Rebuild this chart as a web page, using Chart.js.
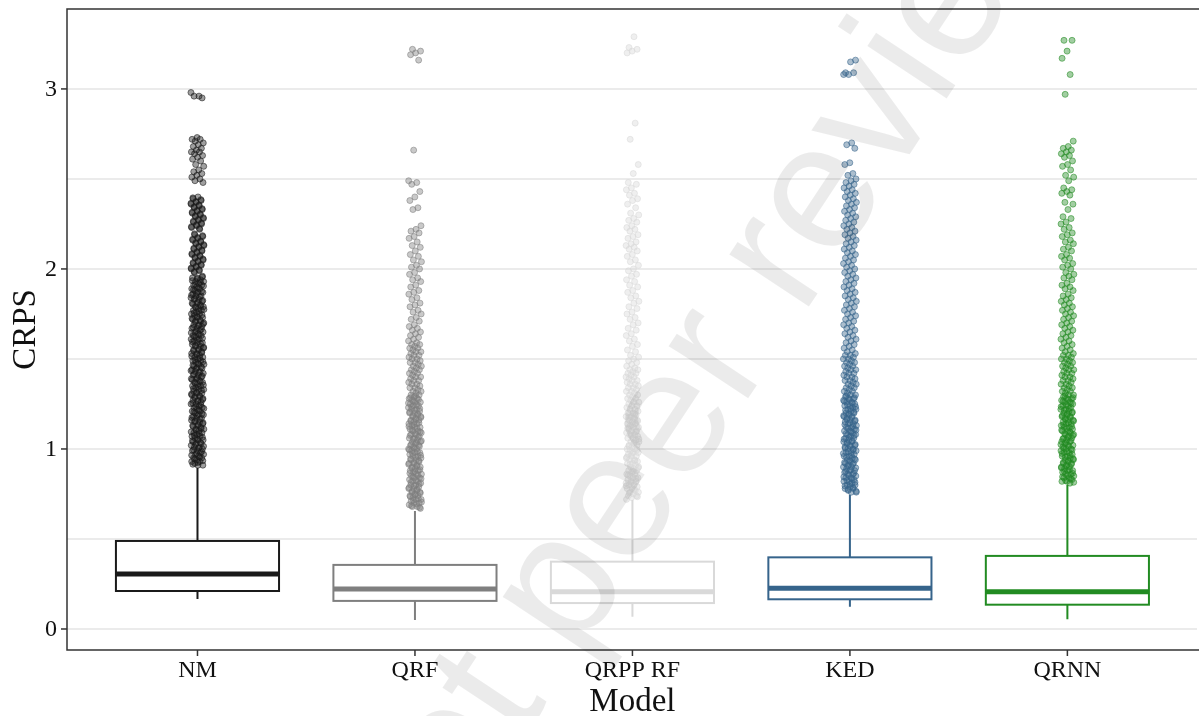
<!DOCTYPE html>
<html>
<head>
<meta charset="utf-8">
<script src="https://cdn.jsdelivr.net/npm/chart.js@4.4.1/dist/chart.umd.min.js"></script>
<style>
  html, body { margin: 0; padding: 0; background: #fff; }
  #wrap { width: 1201px; height: 716px; }
</style>
</head>
<body>
<div id="wrap"><canvas id="chart" width="1201" height="716"></canvas></div>
<script>
/* ============================================
   CRPS by model — boxplot + jittered outliers
   ============================================ */

const categories = ['NM', 'QRF', 'QRPP RF', 'KED', 'QRNN'];
const colors = ['#1A1A1A', '#7F7F7F', '#D9D9D9', '#36648B', '#228B22'];

// box stats
const whiskerLow  = [0.167, 0.050, 0.068, 0.124, 0.054];
const q1          = [0.211, 0.156, 0.144, 0.165, 0.135];
const medians     = [0.306, 0.222, 0.207, 0.226, 0.207];
const q3          = [0.489, 0.356, 0.374, 0.398, 0.406];
const whiskerHigh = [0.894, 0.656, 0.717, 0.744, 0.800];

const yTicks = [0, 0.5, 1, 1.5, 2, 2.5, 3];
const yLabels = [0, 1, 2, 3];

// outliers
const outNM = [2.98,2.96,2.96,2.95,
  2.73,2.72,2.72,2.71,2.70,2.69,2.68,2.67,2.66,2.65,2.65,2.64,2.63,2.62,2.61,2.60,2.58,2.57,2.55,2.54,2.53,2.52,2.51,2.50,2.49,2.48,
  2.40,2.39,2.38,2.37,2.36,2.35,2.34,2.33,2.32,2.31,2.30,2.29,2.28,2.27,2.26,2.25,2.24,2.23,2.22,
  2.19,2.18,2.17,2.16,2.15,2.14,2.13,2.12,2.11,2.10,2.09,2.08,2.07,2.06,2.05,2.04,2.03,2.02,2.01,2.00,1.99,1.98,
  1.96,1.95,1.95,1.94,1.93,1.93,1.92,1.91,1.91,1.90,1.89,1.89,1.88,1.87,1.87,1.86,1.85,1.85,1.84,1.83,1.83,1.82,1.81,1.81,1.80,1.79,1.79,1.78,1.77,1.77,1.76,1.75,1.75,1.74,1.73,1.73,1.72,1.71,1.71,1.70,1.69,1.69,1.68,1.67,1.67,1.66,1.65,1.65,1.64,1.63,1.63,1.62,1.61,1.61,1.60,1.59,1.59,1.58,1.57,1.57,1.56,1.55,1.55,1.54,1.53,1.53,1.52,1.51,1.51,1.50,1.49,1.49,1.48,1.47,1.47,1.46,1.45,1.45,1.44,1.43,1.43,1.42,1.41,1.41,1.40,1.39,1.39,1.38,1.37,1.37,1.36,1.35,1.35,1.34,1.33,1.33,1.32,1.31,1.31,1.30,1.29,1.29,1.28,1.27,1.27,1.26,1.25,1.25,1.24,1.23,1.23,1.22,1.21,1.21,1.20,1.19,1.19,1.18,1.17,1.17,1.16,1.15,1.15,1.14,1.13,1.13,1.12,1.11,1.11,1.10,1.09,1.09,1.08,1.07,1.07,1.06,1.05,1.05,1.04,1.03,1.03,1.02,1.01,1.01,1.00,0.99,0.99,0.98,0.97,0.97,0.96,0.95,0.95,0.94,0.93,0.93,0.92,0.91,0.91,
  2.395,2.385,2.375,2.365,2.355,2.345,2.335,2.325,2.315,2.305,2.295,2.285,2.275,2.265,2.255,2.245,2.235,2.225,
  2.195,2.185,2.175,2.165,2.155,2.145,2.135,2.125,2.115,2.105,2.095,2.085,2.075,2.065,2.055,2.045,2.035,2.025,2.015,2.005,1.995,1.985,
  1.955,1.945,1.935,1.925,1.915,1.905,1.895,1.885,1.875,1.865,1.855,1.845,1.835,1.825,1.815,1.805,1.795,1.785,1.775,1.765,1.755,1.745,1.735,1.725,1.715,1.705,1.695,1.685,1.675,1.665,1.655,1.645,1.635,1.625,1.615,1.605,1.595,1.585,1.575,1.565,1.555,1.545,1.535,1.525,1.515,1.505,1.495,1.485,1.475,1.465,1.455,1.445,1.435,1.425,1.415,1.405,1.395,1.385,1.375,1.365,1.355,1.345,1.335,1.325,1.315,1.305,1.295,1.285,1.275,1.265,1.255,1.245,1.235,1.225,1.215,1.205,1.195,1.185,1.175,1.165,1.155,1.145,1.135,1.125,1.115,1.105,1.095,1.085,1.075,1.065,1.055,1.045,1.035,1.025,1.015,1.005,0.995,0.985,0.975,0.965,0.955,0.945,0.935,0.925,0.915];

const outQRF = [3.22,3.21,3.20,3.19,3.16,2.66,2.49,2.48,2.47,2.43,2.40,2.38,2.34,2.33,
  2.24,2.22,2.21,2.20,2.18,2.17,2.15,2.13,2.12,2.10,2.08,2.07,2.05,2.04,2.02,2.01,2.00,
  1.98,1.97,1.95,1.94,1.93,1.91,1.90,1.88,1.87,1.86,1.84,1.83,1.81,1.80,1.79,1.77,1.76,1.75,1.73,1.72,1.71,1.69,1.68,1.67,1.66,1.65,1.64,1.63,1.62,1.61,1.60,
  1.59,1.58,1.58,1.57,1.56,1.56,1.55,1.54,1.54,1.53,1.52,1.52,1.51,1.50,1.50,1.49,1.48,1.48,1.47,1.46,1.46,1.45,1.44,1.44,1.43,1.42,1.42,1.41,1.40,1.40,1.39,1.38,1.38,1.37,1.36,1.36,1.35,1.34,1.34,1.33,1.32,1.32,1.31,1.30,1.30,1.29,1.28,1.28,1.27,1.26,1.26,1.25,1.24,1.24,1.23,1.22,1.22,1.21,1.20,1.20,1.19,1.18,1.18,1.17,1.16,1.16,1.15,1.14,1.14,1.13,1.12,1.12,1.11,1.10,1.10,1.09,1.08,1.08,1.07,1.06,1.06,1.05,1.04,1.04,1.03,1.02,1.02,1.01,1.00,1.00,0.99,0.98,0.98,0.97,0.96,0.96,0.95,0.94,0.94,0.93,0.92,0.92,0.91,0.90,0.90,0.89,0.88,0.88,0.87,0.86,0.86,0.85,0.84,0.84,0.83,0.82,0.82,0.81,0.80,0.80,0.79,0.78,0.78,0.77,0.76,0.76,0.75,0.74,0.74,0.73,0.72,0.72,0.71,0.70,0.70,0.69,0.68,0.68,0.67,
  1.295,1.285,1.275,1.265,1.255,1.245,1.235,1.225,1.215,1.205,1.195,1.185,1.175,1.165,1.155,1.145,1.135,1.125,1.115,1.105,1.095,1.085,1.075,1.065,1.055,1.045,1.035,1.025,1.015,1.005,0.995,0.985,0.975,0.965,0.955,0.945,0.935,0.925,0.915,0.905,0.895,0.885,0.875,0.865,0.855,0.845,0.835,0.825,0.815,0.805,0.795,0.785,0.775,0.765,0.755,0.745,0.735,0.725,0.715,0.705,0.695,0.685,0.675];

const outQRPP = [3.29,3.23,3.22,3.21,3.20,2.81,2.72,2.58,2.53,
  2.48,2.47,2.45,2.44,2.42,2.41,2.39,2.38,2.36,2.34,2.31,2.30,2.28,2.27,2.26,2.24,2.23,2.22,2.21,2.19,2.18,2.17,2.15,2.14,2.13,2.12,2.11,2.10,
  2.08,2.07,2.05,2.04,2.02,2.00,1.99,1.97,1.96,1.94,1.93,1.91,1.90,1.88,1.87,1.85,1.84,1.82,1.81,1.79,1.78,1.76,1.75,1.73,1.72,1.70,1.69,1.67,1.66,1.64,1.63,1.61,1.60,1.58,1.57,1.55,1.54,1.52,1.51,1.50,1.49,1.48,1.47,1.46,
  1.45,1.44,1.44,1.43,1.42,1.42,1.41,1.40,1.40,1.39,1.38,1.38,1.37,1.36,1.36,1.35,1.34,1.34,1.33,1.32,1.32,1.31,1.30,1.30,1.29,1.28,1.28,1.27,1.26,1.26,1.25,1.24,1.24,1.23,1.22,1.22,1.21,1.20,1.20,1.19,1.18,1.18,1.17,1.16,1.16,1.15,1.14,1.14,1.13,1.12,1.12,1.11,1.10,1.10,1.09,1.08,1.08,1.07,1.06,1.06,1.05,1.04,1.04,1.03,1.02,1.02,1.01,1.00,1.00,0.99,0.98,0.98,0.97,0.96,0.96,0.95,0.94,0.94,0.93,0.92,0.92,0.91,0.90,0.90,0.89,0.88,0.88,0.87,0.86,0.86,0.85,0.84,0.84,0.83,0.82,0.82,0.81,0.80,0.80,0.79,0.78,0.78,0.77,0.76,0.76,0.75,0.74,0.74,0.73,0.72,
  1.195,1.175,1.155,1.135,1.115,1.095,1.075,1.055,1.035,1.015,0.995,0.975,0.955,0.935,0.915,0.895,0.875,0.855,0.835,0.815,0.795,0.775,0.755,0.735];

const outKED = [3.16,3.15,3.09,3.09,3.08,3.08,2.70,2.69,2.67,2.59,2.58,2.53,2.52,2.50,2.49,2.48,2.47,2.46,2.45,
  2.44,2.43,2.42,2.41,2.40,2.39,2.38,2.37,2.36,2.35,2.34,2.33,2.32,2.31,2.30,2.29,2.28,2.27,2.26,2.25,2.24,2.23,2.22,2.21,2.20,2.19,2.18,2.17,2.16,2.15,2.14,2.13,2.12,2.11,2.10,2.09,2.08,2.07,2.06,2.05,2.04,2.03,2.02,2.01,2.00,
  1.99,1.98,1.97,1.96,1.95,1.94,1.93,1.92,1.91,1.90,1.89,1.88,1.87,1.86,1.85,1.84,1.83,1.82,1.81,1.80,1.79,1.78,1.77,1.76,1.75,1.74,1.73,1.72,1.71,1.70,1.69,1.68,1.67,1.66,1.65,1.64,1.63,1.62,1.61,1.60,1.59,1.58,1.57,1.56,1.55,1.54,
  1.53,1.52,1.52,1.51,1.50,1.50,1.49,1.48,1.48,1.47,1.46,1.46,1.45,1.44,1.44,1.43,1.42,1.42,1.41,1.40,1.40,1.39,1.38,1.38,1.37,1.36,1.36,1.35,1.34,1.34,1.33,1.32,1.32,1.31,1.30,1.30,1.29,1.28,1.28,1.27,1.26,1.26,1.25,1.24,1.24,1.23,1.22,1.22,1.21,1.20,1.20,1.19,1.18,1.18,1.17,1.16,1.16,1.15,1.14,1.14,1.13,1.12,1.12,1.11,1.10,1.10,1.09,1.08,1.08,1.07,1.06,1.06,1.05,1.04,1.04,1.03,1.02,1.02,1.01,1.00,1.00,0.99,0.98,0.98,0.97,0.96,0.96,0.95,0.94,0.94,0.93,0.92,0.92,0.91,0.90,0.90,0.89,0.88,0.88,0.87,0.86,0.86,0.85,0.84,0.84,0.83,0.82,0.82,0.81,0.80,0.80,0.79,0.78,0.78,0.77,0.76,0.76,
  1.295,1.285,1.275,1.265,1.255,1.245,1.235,1.225,1.215,1.205,1.195,1.185,1.175,1.165,1.155,1.145,1.135,1.125,1.115,1.105,1.095,1.085,1.075,1.065,1.055,1.045,1.035,1.025,1.015,1.005,0.995,0.985,0.975,0.965,0.955,0.945,0.935,0.925,0.915,0.905,0.895,0.885,0.875,0.865,0.855,0.845,0.835,0.825,0.815,0.805,0.795,0.785,0.775,0.765];

const outQRNN = [3.27,3.27,3.21,3.17,3.08,2.97,2.71,2.68,2.67,2.66,2.65,2.64,2.63,2.62,2.60,2.58,2.57,2.55,2.52,2.51,2.49,
  2.45,2.44,2.43,2.42,2.41,2.37,2.36,2.33,2.29,2.28,2.26,2.25,
  2.23,2.22,2.20,2.19,2.18,2.16,2.15,2.14,2.12,2.11,2.10,2.08,2.07,2.06,2.05,2.03,2.02,2.01,2.00,1.98,1.97,1.96,1.95,1.94,1.92,1.91,1.90,1.89,1.88,1.86,1.85,1.84,1.83,1.82,1.81,1.80,1.79,1.78,1.77,1.76,1.75,1.74,1.73,1.72,1.71,1.70,1.69,1.68,1.67,1.66,1.65,1.64,1.63,1.62,1.61,1.60,1.59,1.58,1.57,1.56,1.55,1.54,
  1.53,1.52,1.52,1.51,1.50,1.50,1.49,1.48,1.48,1.47,1.46,1.46,1.45,1.44,1.44,1.43,1.42,1.42,1.41,1.40,1.40,1.39,1.38,1.38,1.37,1.36,1.36,1.35,1.34,1.34,1.33,1.32,1.32,1.31,1.30,1.30,1.29,1.28,1.28,1.27,1.26,1.26,1.25,1.24,1.24,1.23,1.22,1.22,1.21,1.20,1.20,1.19,1.18,1.18,1.17,1.16,1.16,1.15,1.14,1.14,1.13,1.12,1.12,1.11,1.10,1.10,1.09,1.08,1.08,1.07,1.06,1.06,1.05,1.04,1.04,1.03,1.02,1.02,1.01,1.00,1.00,0.99,0.98,0.98,0.97,0.96,0.96,0.95,0.94,0.94,0.93,0.92,0.92,0.91,0.90,0.90,0.89,0.88,0.88,0.87,0.86,0.86,0.85,0.84,0.84,0.83,0.82,0.82,0.81,
  1.295,1.285,1.275,1.265,1.255,1.245,1.235,1.225,1.215,1.205,1.195,1.185,1.175,1.165,1.155,1.145,1.135,1.125,1.115,1.105,1.095,1.085,1.075,1.065,1.055,1.045,1.035,1.025,1.015,1.005,0.995,0.985,0.975,0.965,0.955,0.945,0.935,0.925,0.915,0.905,0.895,0.885,0.875,0.865,0.855,0.845,0.835,0.825,0.815];

const outliers = [outNM, outQRF, outQRPP, outKED, outQRNN];

const SERIF = '"Liberation Serif", "DejaVu Serif", serif';

function rgba(hex, a) {
    const n = parseInt(hex.slice(1), 16);
    return `rgba(${n >> 16},${(n >> 8) & 255},${n & 255},${a})`;
}

// jitter is only a drawing offset (golden-ratio spread, no randomness)
const datasets = categories.map((c, i) => ({
    label: c,
    data: outliers[i].map((v, k) => ({ x: i + 1 + (((k * 0.618034 + i * 0.31) % 1) - 0.5) * 0.06, y: v })),
    backgroundColor: rgba(colors[i], 0.42),
    borderColor: rgba(colors[i], 0.55),
    borderWidth: 1,
    pointRadius: 3,
    pointHoverRadius: 3
}));

const boxPlugin = {
    id: 'boxes',
    beforeDatasetsDraw(chart) {
        const { ctx, chartArea: a, scales: { x, y } } = chart;
        ctx.save();
        // grid (major + minor, same grey)
        ctx.strokeStyle = '#EBEBEB';
        ctx.lineWidth = 2;
        yTicks.forEach(v => {
            const py = Math.round(y.getPixelForValue(v));
            ctx.beginPath();
            ctx.moveTo(a.left, py);
            ctx.lineTo(a.right, py);
            ctx.stroke();
        });
        categories.forEach((c, i) => {
            const cx = x.getPixelForValue(i + 1);
            const half = (x.getPixelForValue(i + 1.375) - x.getPixelForValue(i + 0.625)) / 2;
            ctx.strokeStyle = colors[i];
            ctx.lineWidth = 2;
            ctx.beginPath();
            ctx.moveTo(cx, y.getPixelForValue(whiskerHigh[i]));
            ctx.lineTo(cx, y.getPixelForValue(q3[i]));
            ctx.moveTo(cx, y.getPixelForValue(q1[i]));
            ctx.lineTo(cx, y.getPixelForValue(whiskerLow[i]));
            ctx.stroke();
            const top = y.getPixelForValue(q3[i]);
            const bot = y.getPixelForValue(q1[i]);
            ctx.fillStyle = '#fff';
            ctx.fillRect(cx - half, top, half * 2, bot - top);
            ctx.strokeRect(cx - half, top, half * 2, bot - top);
            ctx.lineWidth = 5;
            ctx.beginPath();
            const my = y.getPixelForValue(medians[i]);
            ctx.moveTo(cx - half, my);
            ctx.lineTo(cx + half, my);
            ctx.stroke();
        });
        ctx.restore();
    },
    afterDraw(chart) {
        const { ctx, chartArea: a, scales: { x, y } } = chart;
        ctx.save();
        // panel border (right edge falls off the picture)
        ctx.strokeStyle = '#333';
        ctx.lineWidth = 1.5;
        ctx.beginPath();
        ctx.moveTo(a.right + 2, a.top);
        ctx.lineTo(a.left, a.top);
        ctx.lineTo(a.left, a.bottom);
        ctx.lineTo(a.right + 2, a.bottom);
        ctx.stroke();

        // ticks + labels
        ctx.fillStyle = '#111';
        ctx.font = '24px ' + SERIF;
        ctx.textAlign = 'right';
        ctx.textBaseline = 'middle';
        yLabels.forEach(v => {
            const py = y.getPixelForValue(v);
            ctx.beginPath();
            ctx.moveTo(a.left - 6, py);
            ctx.lineTo(a.left, py);
            ctx.stroke();
            ctx.fillText(String(v), a.left - 10, py + 1);
        });
        ctx.textAlign = 'center';
        ctx.textBaseline = 'alphabetic';
        categories.forEach((c, i) => {
            const px = x.getPixelForValue(i + 1);
            ctx.beginPath();
            ctx.moveTo(px, a.bottom);
            ctx.lineTo(px, a.bottom + 6);
            ctx.stroke();
            ctx.fillText(c, px, a.bottom + 27);
        });

        // axis titles
        ctx.font = '33px ' + SERIF;
        ctx.fillText('Model', (a.left + x.getPixelForValue(5.6)) / 2, a.bottom + 61);
        ctx.translate(35, (a.top + a.bottom) / 2);
        ctx.rotate(-Math.PI / 2);
        ctx.fillText('CRPS', 0, 0);
        ctx.restore();

        // preprint watermark
        ctx.save();
        ctx.translate(755, 298);
        ctx.rotate(-56.5 * Math.PI / 180);
        ctx.font = '180px "Liberation Sans", Arial, sans-serif';
        ctx.fillStyle = 'rgba(0,0,0,0.08)';
        ctx.textAlign = 'center';
        ctx.textBaseline = 'middle';
        ctx.fillText('Not peer reviewed', 0, 0);
        ctx.restore();
    }
};

new Chart(document.getElementById('chart'), {
    type: 'scatter',
    data: { datasets },
    options: {
        responsive: false,
        animation: false,
        devicePixelRatio: 1,
        layout: { padding: { left: 67, top: 9, right: 0, bottom: 66 } },
        plugins: { legend: { display: false }, tooltip: { enabled: false } },
        scales: {
            x: { type: 'linear', display: false, min: 0.4, max: 5.596 },
            y: { type: 'linear', display: false, min: -0.1167, max: 3.444 }
        }
    },
    plugins: [boxPlugin]
});
</script>
</body>
</html>
